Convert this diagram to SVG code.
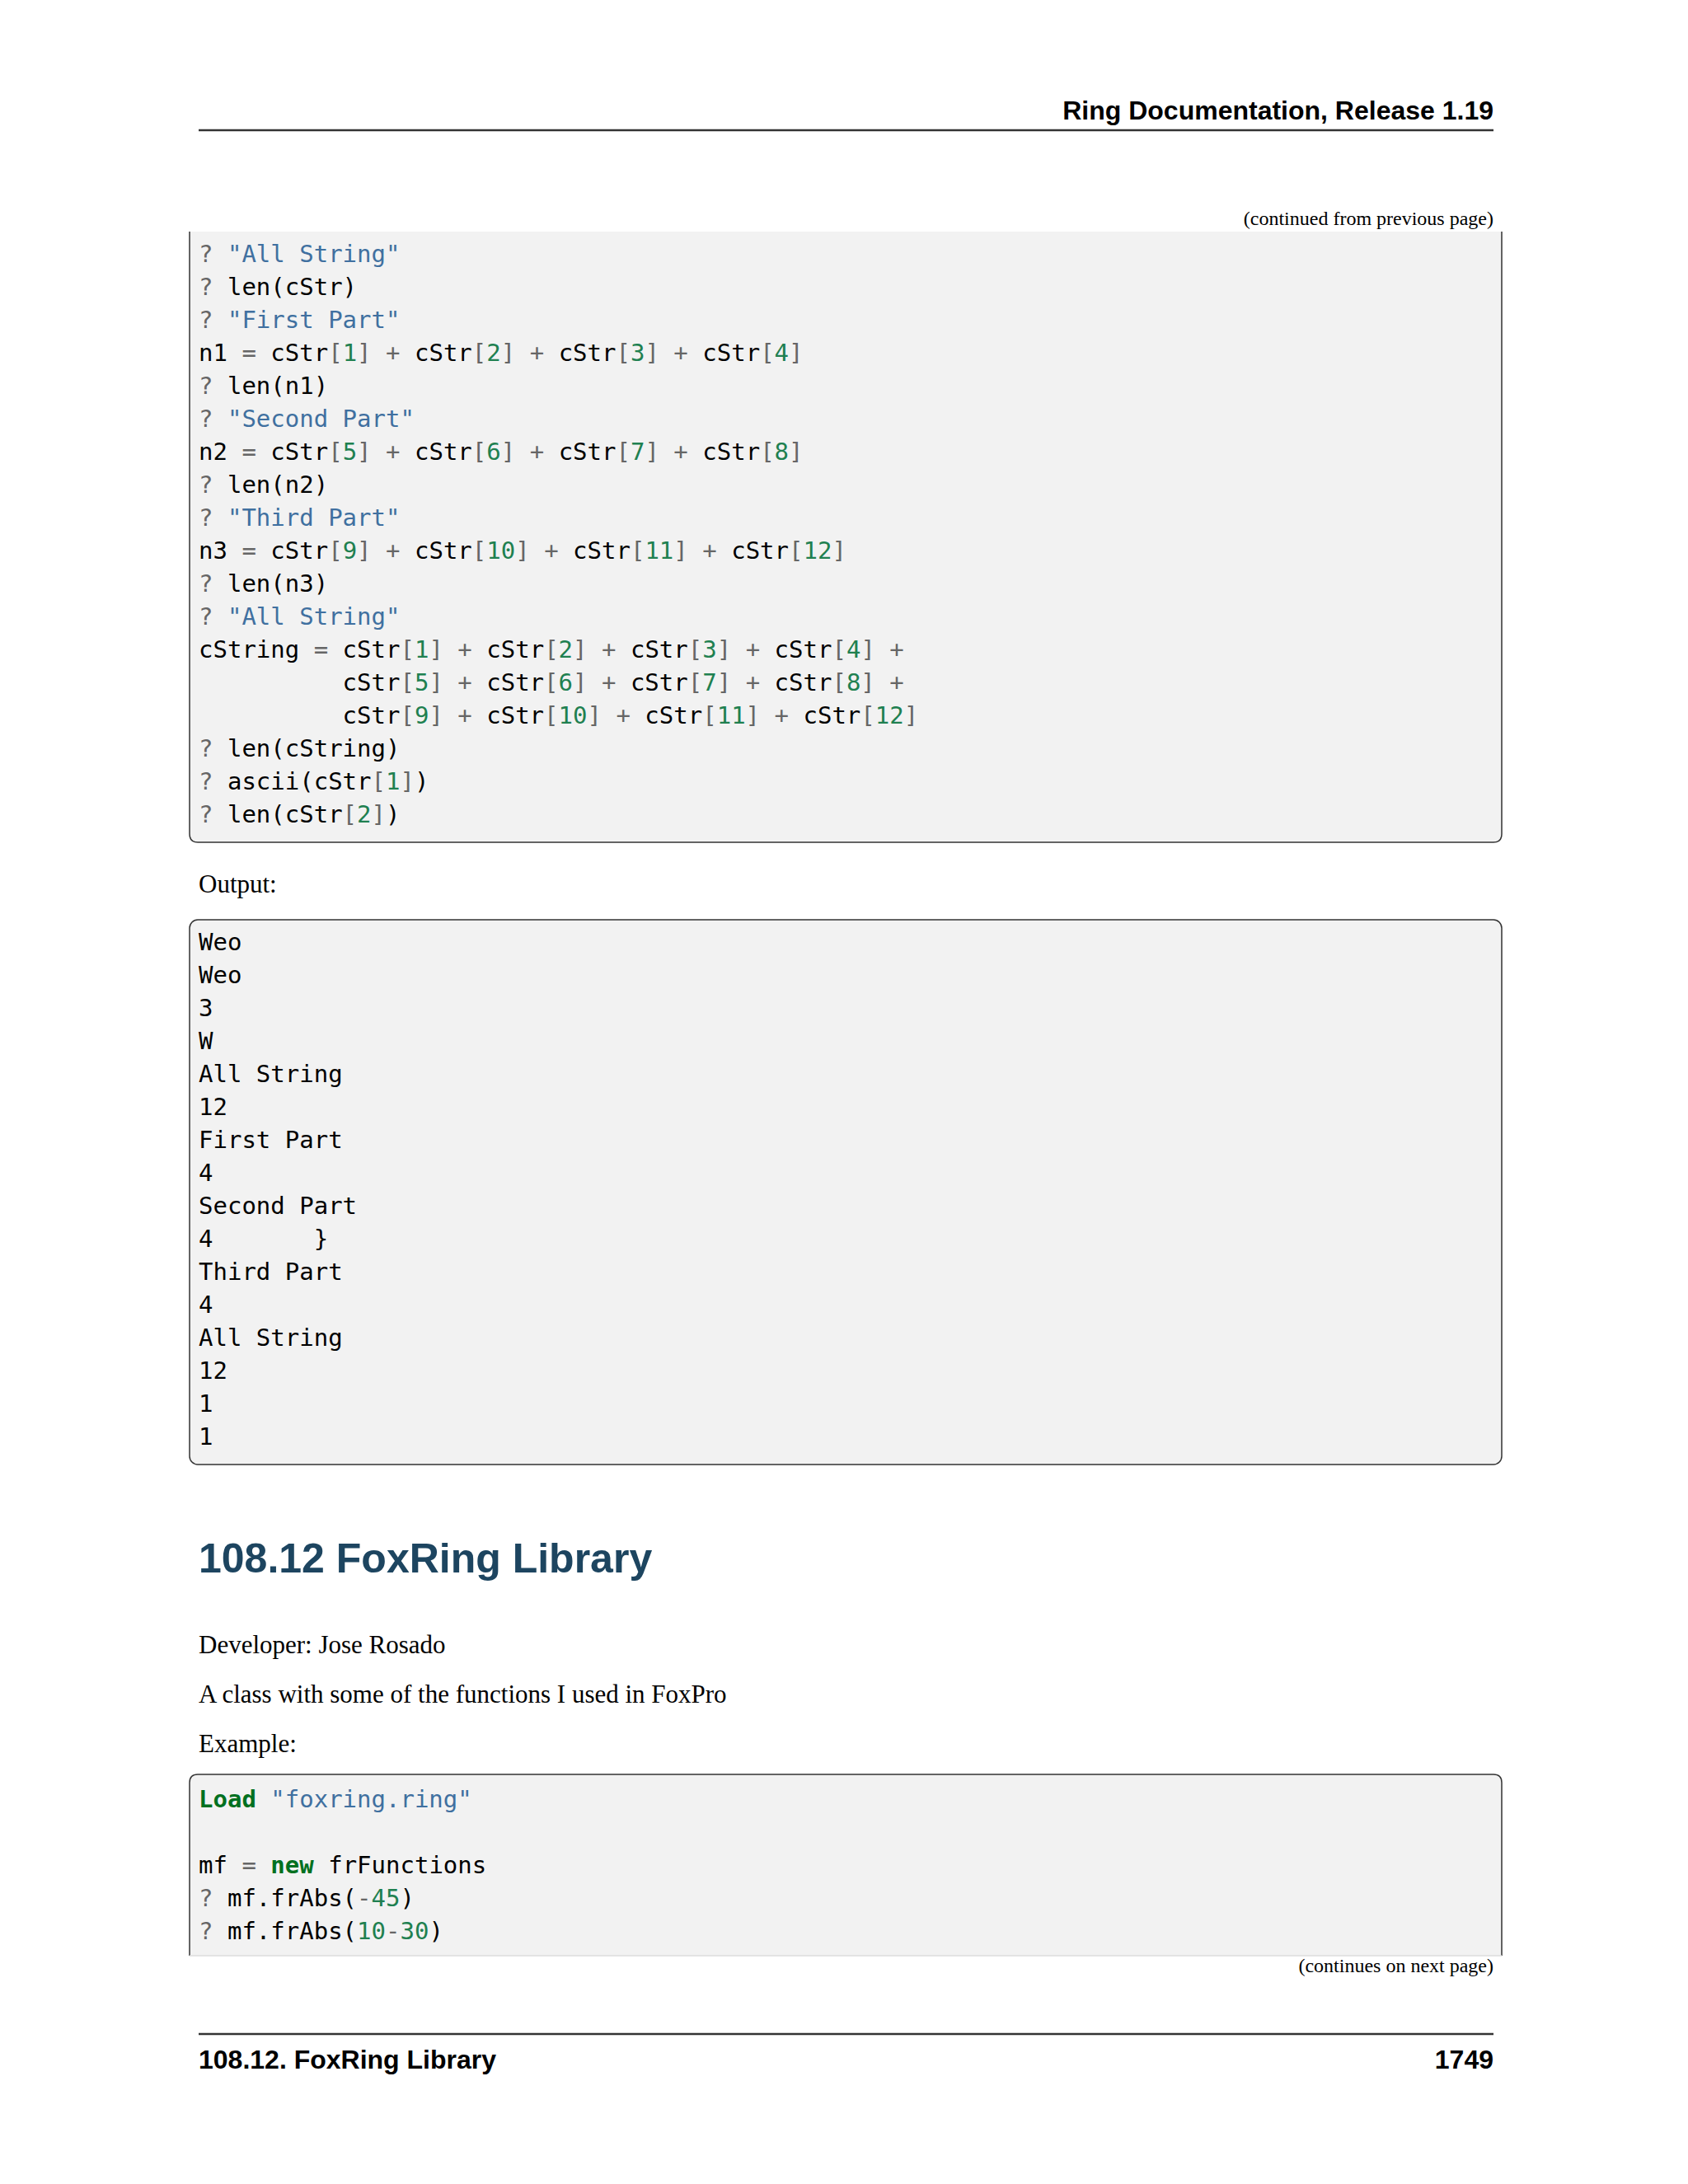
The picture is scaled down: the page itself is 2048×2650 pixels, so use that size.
<svg xmlns="http://www.w3.org/2000/svg" width="2048" height="2650" viewBox="0 0 2048 2650">
<style>
.hd{font-family:"Liberation Sans",Arial,sans-serif;font-weight:bold;font-size:32px;fill:#000}
.cap{font-family:"Liberation Serif","Times New Roman",serif;font-size:24px;fill:#000}
.body{font-family:"Liberation Serif","Times New Roman",serif;font-size:31px;fill:#000}
.h2{font-family:"Liberation Sans",Arial,sans-serif;font-weight:bold;font-size:50px;fill:#1d4560}
.c{font-family:"DejaVu Sans Mono",monospace;font-size:29px;fill:#000;white-space:pre}
.s{fill:#4070a0}.n{fill:#208050}.o{fill:#666666}.k{fill:#007020;font-weight:bold}
.box{fill:#f2f2f2;stroke:#333;stroke-width:1.5}
.rule{stroke:#333;stroke-width:2.5}
</style>
<g id="header">
<text class="hd" x="1812" y="145" text-anchor="end">Ring Documentation, Release 1.19</text>
<line class="rule" x1="241" y1="158" x2="1812" y2="158"/>
</g>
<g id="code1">
<text class="cap" x="1812" y="273" text-anchor="end">(continued from previous page)</text>
<path class="box" d="M230 281 V1012 Q230 1022 240 1022 H1812 Q1822 1022 1822 1012 V281"/>
<text class="c" x="241" y="318" xml:space="preserve"><tspan class="o">?</tspan> <tspan class="s">"All String"</tspan></text>
<text class="c" x="241" y="358" xml:space="preserve"><tspan class="o">?</tspan> len(cStr)</text>
<text class="c" x="241" y="398" xml:space="preserve"><tspan class="o">?</tspan> <tspan class="s">"First Part"</tspan></text>
<text class="c" x="241" y="438" xml:space="preserve">n1 <tspan class="o">=</tspan> cStr<tspan class="o">[</tspan><tspan class="n">1</tspan><tspan class="o">]</tspan> <tspan class="o">+</tspan> cStr<tspan class="o">[</tspan><tspan class="n">2</tspan><tspan class="o">]</tspan> <tspan class="o">+</tspan> cStr<tspan class="o">[</tspan><tspan class="n">3</tspan><tspan class="o">]</tspan> <tspan class="o">+</tspan> cStr<tspan class="o">[</tspan><tspan class="n">4</tspan><tspan class="o">]</tspan></text>
<text class="c" x="241" y="478" xml:space="preserve"><tspan class="o">?</tspan> len(n1)</text>
<text class="c" x="241" y="518" xml:space="preserve"><tspan class="o">?</tspan> <tspan class="s">"Second Part"</tspan></text>
<text class="c" x="241" y="558" xml:space="preserve">n2 <tspan class="o">=</tspan> cStr<tspan class="o">[</tspan><tspan class="n">5</tspan><tspan class="o">]</tspan> <tspan class="o">+</tspan> cStr<tspan class="o">[</tspan><tspan class="n">6</tspan><tspan class="o">]</tspan> <tspan class="o">+</tspan> cStr<tspan class="o">[</tspan><tspan class="n">7</tspan><tspan class="o">]</tspan> <tspan class="o">+</tspan> cStr<tspan class="o">[</tspan><tspan class="n">8</tspan><tspan class="o">]</tspan></text>
<text class="c" x="241" y="598" xml:space="preserve"><tspan class="o">?</tspan> len(n2)</text>
<text class="c" x="241" y="638" xml:space="preserve"><tspan class="o">?</tspan> <tspan class="s">"Third Part"</tspan></text>
<text class="c" x="241" y="678" xml:space="preserve">n3 <tspan class="o">=</tspan> cStr<tspan class="o">[</tspan><tspan class="n">9</tspan><tspan class="o">]</tspan> <tspan class="o">+</tspan> cStr<tspan class="o">[</tspan><tspan class="n">10</tspan><tspan class="o">]</tspan> <tspan class="o">+</tspan> cStr<tspan class="o">[</tspan><tspan class="n">11</tspan><tspan class="o">]</tspan> <tspan class="o">+</tspan> cStr<tspan class="o">[</tspan><tspan class="n">12</tspan><tspan class="o">]</tspan></text>
<text class="c" x="241" y="718" xml:space="preserve"><tspan class="o">?</tspan> len(n3)</text>
<text class="c" x="241" y="758" xml:space="preserve"><tspan class="o">?</tspan> <tspan class="s">"All String"</tspan></text>
<text class="c" x="241" y="798" xml:space="preserve">cString <tspan class="o">=</tspan> cStr<tspan class="o">[</tspan><tspan class="n">1</tspan><tspan class="o">]</tspan> <tspan class="o">+</tspan> cStr<tspan class="o">[</tspan><tspan class="n">2</tspan><tspan class="o">]</tspan> <tspan class="o">+</tspan> cStr<tspan class="o">[</tspan><tspan class="n">3</tspan><tspan class="o">]</tspan> <tspan class="o">+</tspan> cStr<tspan class="o">[</tspan><tspan class="n">4</tspan><tspan class="o">]</tspan> <tspan class="o">+</tspan></text>
<text class="c" x="241" y="838" xml:space="preserve">          cStr<tspan class="o">[</tspan><tspan class="n">5</tspan><tspan class="o">]</tspan> <tspan class="o">+</tspan> cStr<tspan class="o">[</tspan><tspan class="n">6</tspan><tspan class="o">]</tspan> <tspan class="o">+</tspan> cStr<tspan class="o">[</tspan><tspan class="n">7</tspan><tspan class="o">]</tspan> <tspan class="o">+</tspan> cStr<tspan class="o">[</tspan><tspan class="n">8</tspan><tspan class="o">]</tspan> <tspan class="o">+</tspan></text>
<text class="c" x="241" y="878" xml:space="preserve">          cStr<tspan class="o">[</tspan><tspan class="n">9</tspan><tspan class="o">]</tspan> <tspan class="o">+</tspan> cStr<tspan class="o">[</tspan><tspan class="n">10</tspan><tspan class="o">]</tspan> <tspan class="o">+</tspan> cStr<tspan class="o">[</tspan><tspan class="n">11</tspan><tspan class="o">]</tspan> <tspan class="o">+</tspan> cStr<tspan class="o">[</tspan><tspan class="n">12</tspan><tspan class="o">]</tspan></text>
<text class="c" x="241" y="918" xml:space="preserve"><tspan class="o">?</tspan> len(cString)</text>
<text class="c" x="241" y="958" xml:space="preserve"><tspan class="o">?</tspan> ascii(cStr<tspan class="o">[</tspan><tspan class="n">1</tspan><tspan class="o">]</tspan>)</text>
<text class="c" x="241" y="998" xml:space="preserve"><tspan class="o">?</tspan> len(cStr<tspan class="o">[</tspan><tspan class="n">2</tspan><tspan class="o">]</tspan>)</text>
</g>
<g id="output">
<text class="body" x="241" y="1083">Output:</text>
<rect class="box" x="230" y="1116" width="1592" height="661" rx="10"/>
<text class="c" x="241" y="1153">Weo</text>
<text class="c" x="241" y="1193">Weo</text>
<text class="c" x="241" y="1233">3</text>
<text class="c" x="241" y="1273">W</text>
<text class="c" x="241" y="1313">All String</text>
<text class="c" x="241" y="1353">12</text>
<text class="c" x="241" y="1393">First Part</text>
<text class="c" x="241" y="1433">4</text>
<text class="c" x="241" y="1473">Second Part</text>
<text class="c" x="241" y="1513" xml:space="preserve">4       }</text>
<text class="c" x="241" y="1553">Third Part</text>
<text class="c" x="241" y="1593">4</text>
<text class="c" x="241" y="1633">All String</text>
<text class="c" x="241" y="1673">12</text>
<text class="c" x="241" y="1713">1</text>
<text class="c" x="241" y="1753">1</text>
</g>
<g id="section">
<text class="h2" x="241" y="1908">108.12  FoxRing Library</text>
<text class="body" x="241" y="2006">Developer: Jose Rosado</text>
<text class="body" x="241" y="2066">A class with some of the functions I used in FoxPro</text>
<text class="body" x="241" y="2126">Example:</text>
</g>
<g id="code2">
<path class="box" d="M230 2373 V2163 Q230 2153 240 2153 H1812 Q1822 2153 1822 2163 V2373"/>
<line x1="230" y1="2373" x2="1822" y2="2373" stroke="#ddd" stroke-width="1.5"/>
<text class="c" x="241" y="2193" xml:space="preserve"><tspan class="k">Load</tspan> <tspan class="s">"foxring.ring"</tspan></text>
<text class="c" x="241" y="2273" xml:space="preserve">mf <tspan class="o">=</tspan> <tspan class="k">new</tspan> frFunctions</text>
<text class="c" x="241" y="2313" xml:space="preserve"><tspan class="o">?</tspan> mf.frAbs(<tspan class="o">-</tspan><tspan class="n">45</tspan>)</text>
<text class="c" x="241" y="2353" xml:space="preserve"><tspan class="o">?</tspan> mf.frAbs(<tspan class="n">10</tspan><tspan class="o">-</tspan><tspan class="n">30</tspan>)</text>
<text class="cap" x="1812" y="2393" text-anchor="end">(continues on next page)</text>
</g>
<g id="footer">
<line class="rule" x1="241" y1="2468" x2="1812" y2="2468"/>
<text class="hd" x="241" y="2510">108.12.  FoxRing Library</text>
<text class="hd" x="1812" y="2510" text-anchor="end">1749</text>
</g>
</svg>
